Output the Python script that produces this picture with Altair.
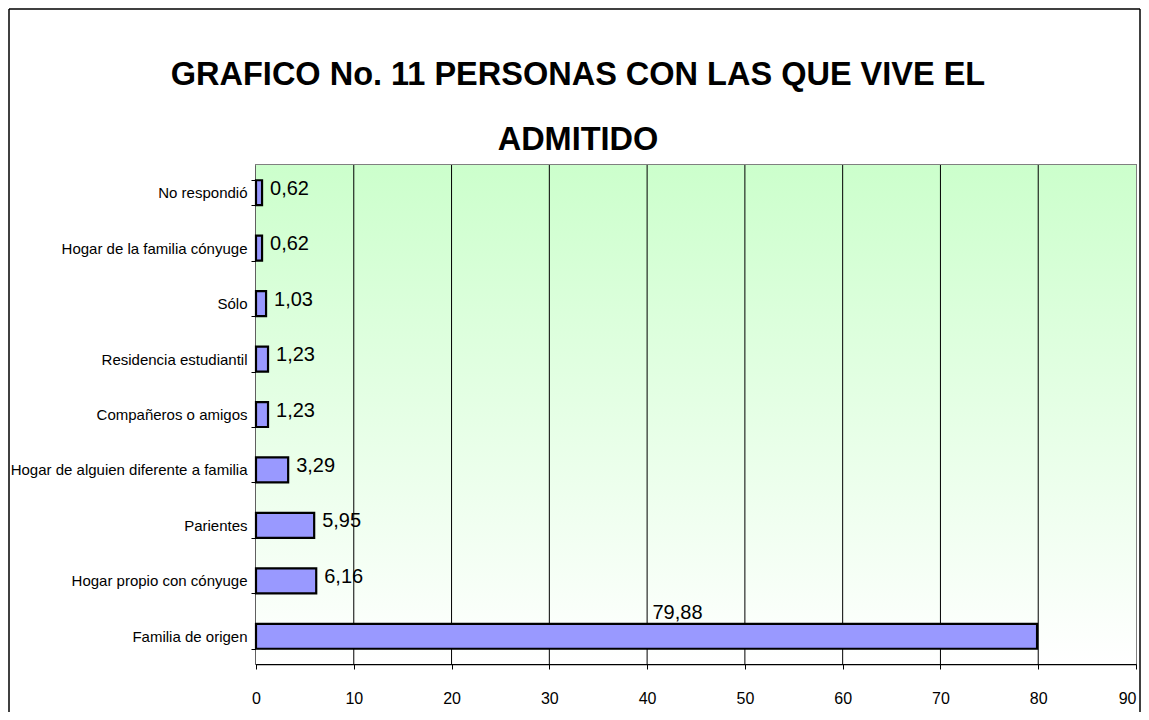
import altair as alt
import pandas as pd

# ---- data ----
categories = [
    "No respondió",
    "Hogar de la familia cónyuge",
    "Sólo",
    "Residencia estudiantil",
    "Compañeros o amigos",
    "Hogar de alguien diferente a familia",
    "Parientes",
    "Hogar propio con cónyuge",
    "Familia de origen",
]
values = [0.62, 0.62, 1.03, 1.23, 1.23, 3.29, 5.95, 6.16, 79.88]
x_ticks = [0, 10, 20, 30, 40, 50, 60, 70, 80, 90]
grid_values = x_ticks[1:-1]
title_lines = ["GRAFICO No. 11 PERSONAS CON LAS QUE VIVE EL", "ADMITIDO"]

FONT = "Liberation Sans, Arial, sans-serif"
W, H = 880, 499

df = pd.DataFrame({"cat": categories, "value": values})
grid_df = pd.DataFrame({"value": grid_values})

xscale = alt.Scale(domain=[x_ticks[0], x_ticks[-1]], nice=False, zero=True)
yscale = alt.Scale(domain=categories, paddingInner=0.55, paddingOuter=0.275)

xaxis = alt.Axis(
    title=None, values=x_ticks, grid=False, tickSize=5, tickColor="black",
    domainColor="black", domainWidth=1.5, labelFont=FONT, labelFontSize=16,
    labelColor="black", labelPadding=21,
    labelAlign=alt.condition("datum.value == 90", alt.value("right"), alt.value("center")),
)
yaxis = alt.Axis(
    title=None, grid=False, tickSize=5, tickColor="black", tickBand="extent",
    domainColor="black", domainWidth=1.5, labelFont=FONT, labelFontSize=15,
    labelColor="black", labelPadding=4, labelLimit=240,
)

one = alt.Data(values=[{}])

bg = alt.Chart(one).mark_rect(
    fill={"gradient": "linear", "x1": 0, "y1": 0, "x2": 0, "y2": 1,
          "stops": [{"offset": 0, "color": "#CCFFCC"}, {"offset": 1, "color": "#FFFFFF"}]}
).encode(x=alt.value(0), x2=alt.value(W), y=alt.value(0), y2=alt.value(H))

grid = alt.Chart(grid_df).mark_rule(color="black", strokeWidth=1).encode(
    x=alt.X("value:Q", scale=xscale, axis=xaxis),
    y=alt.value(0), y2=alt.value(H),
)

bars = alt.Chart(df).mark_bar(fill="#9999FF", stroke="black", strokeWidth=2.2).encode(
    x=alt.X("value:Q", scale=xscale, axis=xaxis),
    y=alt.Y("cat:N", scale=yscale, axis=yaxis),
)

lbl_expr = "replace(format(datum.value, '.2f'), '.', ',')"

small_labels = alt.Chart(df).transform_filter("datum.value < 50").transform_calculate(
    lbl=lbl_expr
).mark_text(align="left", baseline="middle", dx=8, dy=-4, font=FONT, fontSize=20, color="black").encode(
    x=alt.X("value:Q", scale=xscale, axis=xaxis),
    y=alt.Y("cat:N", scale=yscale, axis=yaxis),
    text="lbl:N",
)

big_labels = alt.Chart(df).transform_filter("datum.value >= 50").transform_calculate(
    lbl=lbl_expr, half="datum.value / 2"
).mark_text(align="center", baseline="alphabetic", dx=31, dy=-17, font=FONT, fontSize=20, color="black").encode(
    x=alt.X("half:Q", scale=xscale, axis=xaxis),
    y=alt.Y("cat:N", scale=yscale, axis=yaxis),
    text="lbl:N",
)

title1 = alt.Chart(one).mark_text(
    text=title_lines[0], font=FONT, fontSize=32.5, fontWeight="bold", color="black",
    align="center", baseline="alphabetic",
).encode(x=alt.value(322), y=alt.value(-80))
title2 = alt.Chart(one).mark_text(
    text=title_lines[1], font=FONT, fontSize=32.5, fontWeight="bold", color="black",
    align="center", baseline="alphabetic",
).encode(x=alt.value(322), y=alt.value(-15))

frame_left = alt.Chart(one).mark_rule(color="black", strokeWidth=1.5).encode(
    x=alt.value(-247), y=alt.value(-156), y2=alt.value(547))
frame_top = alt.Chart(one).mark_rule(color="black", strokeWidth=1.5).encode(
    x=alt.value(-247), x2=alt.value(884), y=alt.value(-156))
frame_right = alt.Chart(one).mark_rule(color="black", strokeWidth=1.5).encode(
    x=alt.value(884), y=alt.value(-156), y2=alt.value(547))

chart = alt.layer(
    bg, grid, bars, small_labels, big_labels, title1, title2, frame_left, frame_top, frame_right
).properties(
    width=W, height=H, padding=0, background="white"
).configure_view(
    stroke="#808080", strokeWidth=2
)

chart.save("out.html", embed_options={"renderer": "svg", "actions": False})
